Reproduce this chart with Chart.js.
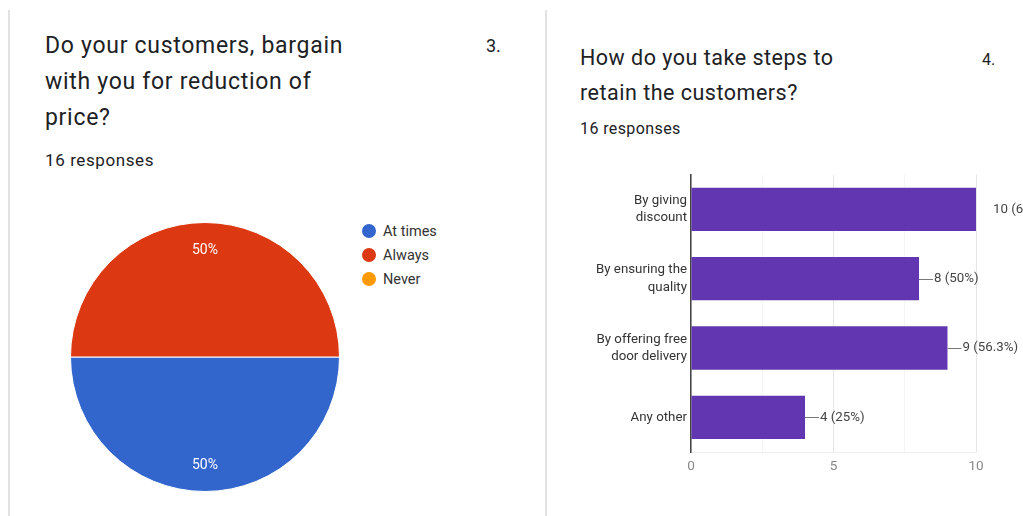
<!DOCTYPE html>
<html lang="en">
<head>
    <meta charset="UTF-8">
    <title>Customer survey</title>
    <script src="https://cdn.jsdelivr.net/npm/chart.js"></script>
    <style>
        body {
            margin: 0;
            width: 1023px;
            height: 516px;
            overflow: hidden;
            background: #fff;
            font-family: Roboto, Arial, sans-serif;
            color: #202124;
            position: relative;
        }
        .abs { position: absolute; }
        .title { white-space: nowrap; }
        .edge { position: absolute; background: #e2e2e2; width: 2px; }
        .legend-item { position: absolute; left: 362px; font-size: 14.5px; color: #333; height: 24px; line-height: 24px; }
        .legend-item span.dot {
            display: inline-block; width: 14px; height: 14px; border-radius: 50%;
            vertical-align: -2px; margin-right: 7px;
        }
    </style>
</head>
<body>
    <div class="edge" style="left:8px; top:10px; height:506px;"></div>
    <div class="edge" style="left:545px; top:10px; height:506px;"></div>

    <div class="abs title" style="left:45px; top:28px; font-size:23px; letter-spacing:0.7px; line-height:36px;">Do your customers, bargain<br>with you for reduction of<br>price?</div>
    <div class="abs" style="left:486px; top:36px; font-size:18px; line-height:20px;">3.</div>
    <div class="abs" style="left:45px; top:149px; font-size:17px; letter-spacing:0.6px; line-height:22px;">16 responses</div>

    <div class="abs title" style="left:580px; top:40px; font-size:21.5px; letter-spacing:0.5px; line-height:35px;">How do you take steps to<br>retain the customers?</div>
    <div class="abs" style="left:982px; top:50px; font-size:16px; line-height:20px;">4.</div>
    <div class="abs" style="left:580px; top:118px; font-size:16px; letter-spacing:0.4px; line-height:22px;">16 responses</div>

    <div class="abs" style="left:70px; top:222px; width:270px; height:270px;">
        <canvas id="pieChart"></canvas>
    </div>
    <div id="pieLegend"></div>

    <div class="abs" style="left:560px; top:162px; width:463px; height:328px;">
        <canvas id="barChart"></canvas>
    </div>

    <script>
        // question 3
        const pieLabels = ['At times', 'Always', 'Never'];
        const pieCounts = [8, 8, 0];
        const pieColors = ['#3366cc', '#dc3912', '#ff9900'];

        // question 4
        const barLabels = [
            ['By giving', 'discount'],
            ['By ensuring the', 'quality'],
            ['By offering free', 'door delivery'],
            ['Any other']
        ];
        const barCounts = [10, 8, 9, 4];
        const responses = 16;
        const xTicks = [0, 5, 10];

        // html legend for the pie
        const legend = document.getElementById('pieLegend');
        pieLabels.forEach((label, i) => {
            const item = document.createElement('div');
            item.className = 'legend-item';
            item.style.top = (220 + i * 24) + 'px';
            item.innerHTML = '<span class="dot" style="background:' + pieColors[i] + '"></span>' + label;
            legend.appendChild(item);
        });

        function pct(v) {
            return (Math.round(v / responses * 1000) / 10) + '%';
        }

        // percent labels inside the slices
        const sliceLabels = {
            id: 'sliceLabels',
            afterDatasetsDraw(chart) {
                const ctx = chart.ctx;
                const total = pieCounts.reduce((a, b) => a + b, 0);
                chart.getDatasetMeta(0).data.forEach((arc, i) => {
                    if (!pieCounts[i]) return;
                    const mid = (arc.startAngle + arc.endAngle) / 2;
                    const r = arc.outerRadius * 0.8;
                    ctx.save();
                    ctx.fillStyle = '#fff';
                    ctx.font = '14px Roboto, Arial, sans-serif';
                    ctx.textAlign = 'center';
                    ctx.textBaseline = 'middle';
                    ctx.fillText(Math.round(pieCounts[i] / total * 100) + '%',
                        arc.x + Math.cos(mid) * r, arc.y + Math.sin(mid) * r + 1);
                    ctx.restore();
                });
            }
        };

        new Chart(document.getElementById('pieChart'), {
            type: 'pie',
            data: {
                labels: pieLabels,
                datasets: [{
                    data: pieCounts,
                    backgroundColor: pieColors,
                    borderColor: '#fff',
                    borderWidth: 1
                }]
            },
            options: {
                responsive: true,
                maintainAspectRatio: false,
                animation: false,
                rotation: 90,
                plugins: {
                    legend: { display: false },
                    tooltip: { enabled: false }
                }
            },
            plugins: [sliceLabels]
        });

        // value labels with short leader lines
        const barValueLabels = {
            id: 'barValueLabels',
            afterDatasetsDraw(chart) {
                const ctx = chart.ctx;
                const max = chart.scales.x.max;
                chart.getDatasetMeta(0).data.forEach((bar, i) => {
                    const v = barCounts[i];
                    const text = v + ' (' + pct(v) + ')';
                    ctx.save();
                    ctx.font = '13.3px Roboto, Arial, sans-serif';
                    ctx.fillStyle = '#444';
                    ctx.textBaseline = 'middle';
                    if (v >= max) {
                        ctx.fillText(text, bar.x + 17, bar.y);
                    } else {
                        ctx.strokeStyle = '#777';
                        ctx.lineWidth = 1;
                        ctx.beginPath();
                        ctx.moveTo(bar.x, Math.round(bar.y) + 0.5);
                        ctx.lineTo(bar.x + 14, Math.round(bar.y) + 0.5);
                        ctx.stroke();
                        ctx.fillText(text, bar.x + 15, bar.y);
                    }
                    ctx.restore();
                });
            }
        };

        new Chart(document.getElementById('barChart'), {
            type: 'bar',
            data: {
                labels: barLabels,
                datasets: [{
                    data: barCounts,
                    backgroundColor: '#6236b0',
                    barPercentage: 0.625,
                    categoryPercentage: 1
                }]
            },
            options: {
                indexAxis: 'y',
                responsive: true,
                maintainAspectRatio: false,
                animation: false,
                layout: { padding: { top: 5, right: 47, left: 0, bottom: 0 } },
                scales: {
                    x: {
                        min: 0,
                        max: 10,
                        afterBuildTicks: axis => {
                            axis.ticks = [0, 2.5, 5, 7.5, 10].map(v => ({ value: v }));
                        },
                        afterFit: axis => { axis.height = 38; },
                        ticks: {
                            color: '#888',
                            font: { size: 13.5, family: 'Roboto, Arial, sans-serif' },
                            padding: 7,
                            callback: v => xTicks.includes(v) ? v : ''
                        },
                        grid: {
                            drawTicks: false,
                            color: c => xTicks.includes(c.tick.value) ? '#e6e6e6' : '#f4f4f4'
                        },
                        border: { color: '#efefef' }
                    },
                    y: {
                        afterFit: axis => { axis.width = 131; },
                        ticks: {
                            color: '#333',
                            font: { size: 13.3, family: 'Roboto, Arial, sans-serif', lineHeight: 1.3 },
                            padding: 4
                        },
                        grid: { display: false, drawTicks: false },
                        border: { color: '#444', width: 1.5 }
                    }
                },
                plugins: {
                    legend: { display: false },
                    tooltip: { enabled: false }
                }
            },
            plugins: [barValueLabels]
        });
    </script>
</body>
</html>
